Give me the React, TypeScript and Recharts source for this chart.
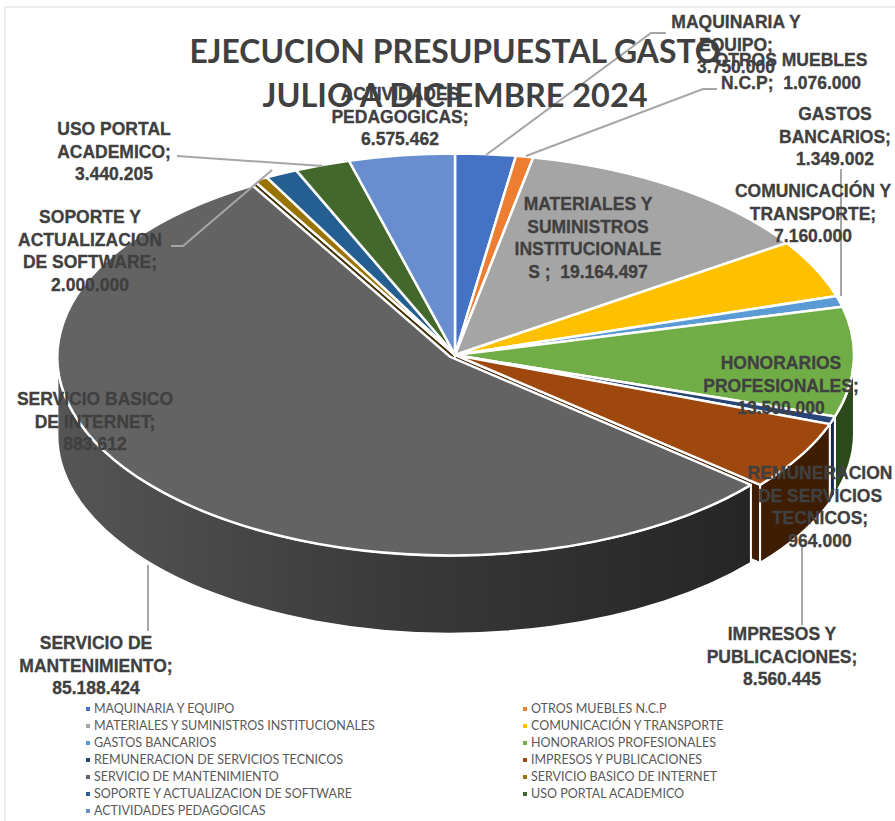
import React from 'react';
import { PieChart, Pie, Legend } from 'recharts';

const categories = [
  'MAQUINARIA Y EQUIPO',
  'OTROS MUEBLES N.C.P',
  'MATERIALES Y SUMINISTROS INSTITUCIONALES',
  'COMUNICACIÓN Y TRANSPORTE',
  'GASTOS BANCARIOS',
  'HONORARIOS PROFESIONALES',
  'REMUNERACION DE SERVICIOS TECNICOS',
  'IMPRESOS Y PUBLICACIONES',
  'SERVICIO DE MANTENIMIENTO',
  'SERVICIO BASICO DE INTERNET',
  'SOPORTE Y ACTUALIZACION DE SOFTWARE',
  'USO PORTAL ACADEMICO',
  'ACTIVIDADES PEDAGOGICAS',
];
const values = [
  3750000, 1076000, 19164497, 7160000, 1349002, 13500000, 964000,
  8560445, 85188424, 883612, 2000000, 3440205, 6575462,
];
const topColors = [
  '#4472c4', '#ed7d31', '#a5a5a5', '#ffc000', '#5b9bd5', '#70ad47', '#264478',
  '#9e480e', '#636363', '#997300', '#255e91', '#43682b', '#698ed0',
];
const sideColors = [
  '#294476', '#8e4b1d', '#636363', '#997300', '#375d80', '#2b4a1b', '#14274e',
  '#3f1d02', 'url(#wallGrey)', '#3f2f00', '#163855', '#28401a', '#3f557d',
];
// how far each slice is pulled out of the pie, in px
const explode = [0, 0, 0, 0, 0, 0, 0, 0, 6, 0, 0, 0, 0];
// the big slice is a little smaller than the rest in the original
const radiusScale = [1, 1, 1, 1, 1, 1, 1, 1, 0.985, 1, 1, 1, 1];

const labelText = [
  ['MAQUINARIA Y', 'EQUIPO;', '3.750.000'],
  ['OTROS MUEBLES', 'N.C.P;  1.076.000'],
  ['MATERIALES Y', 'SUMINISTROS', 'INSTITUCIONALE', 'S ;  19.164.497'],
  ['COMUNICACIÓN Y', 'TRANSPORTE;', '7.160.000'],
  ['GASTOS', 'BANCARIOS;', '1.349.002'],
  ['HONORARIOS', 'PROFESIONALES;', '13.500.000'],
  ['REMUNERACION', 'DE SERVICIOS', 'TECNICOS;', '964.000'],
  ['IMPRESOS Y', 'PUBLICACIONES;', '8.560.445'],
  ['SERVICIO DE', 'MANTENIMIENTO;', '85.188.424'],
  ['SERVICIO BASICO', 'DE INTERNET;', '883.612'],
  ['SOPORTE Y', 'ACTUALIZACION', 'DE SOFTWARE;', '2.000.000'],
  ['USO PORTAL', 'ACADEMICO;', '3.440.205'],
  ['ACTIVIDADES', 'PEDAGOGICAS;', '6.575.462'],
];
const labelX = [736, 791, 588, 813, 835, 781, 820, 782, 96, 95, 90, 114, 400];
const labelY = [22, 60, 204, 191, 114, 363, 473, 634, 643, 399, 217, 129, 94];

const leaderLines = [
  '486,155 651,33 666,33',
  '526,156 703,89 717,89',
  '841,169 841,296',
  '177,156 323,166',
  '171,246 183,246 272,170',
  '148,565 148,631',
  '802,547 802,625',
];

const data = categories.map((name, i) => ({ name, value: values[i], idx: i }));

const SQUASH = 0.505;
const DEPTH = 78;
const rad = (a: number) => (a * Math.PI) / 180;

const geom = (props: any) => {
  const { cx, cy, outerRadius, startAngle: s, endAngle: e, payload } = props;
  const idx = payload?.idx ?? props.idx;
  const r = outerRadius * radiusScale[idx];
  const mid = rad((s + e) / 2);
  const ox = cx + Math.cos(mid) * explode[idx];
  const oy = cy - Math.sin(mid) * explode[idx] * SQUASH;
  const pt = (a: number, drop = 0) =>
    `${ox + r * Math.cos(rad(a))} ${oy - r * SQUASH * Math.sin(rad(a)) + drop}`;
  return { ox, oy, r, s, e, idx, pt };
};

const TopSlice = (props: any) => {
  const { ox, oy, r, s, e, idx, pt } = geom(props);
  const large = Math.abs(s - e) > 180 ? 1 : 0;
  const d = `M ${ox} ${oy} L ${pt(s)} A ${r} ${r * SQUASH} 0 ${large} 1 ${pt(e)} Z`;
  return <path d={d} fill={topColors[idx]} stroke="#fff" strokeWidth={2.5} strokeLinejoin="round" />;
};

const WallSlice = (props: any) => {
  const { r, s, e, idx, pt } = geom(props);
  const from = Math.min(s, 0);
  const to = Math.max(e, -180);
  if (from <= to) return <g />;
  const large = from - to > 180 ? 1 : 0;
  const d =
    `M ${pt(from)} A ${r} ${r * SQUASH} 0 ${large} 1 ${pt(to)} ` +
    `L ${pt(to, DEPTH)} A ${r} ${r * SQUASH} 0 ${large} 0 ${pt(from, DEPTH)} Z`;
  return <path d={d} fill={sideColors[idx]} stroke="#fff" strokeWidth={2} strokeLinejoin="round" />;
};

// cut faces only show where the neighbouring slice has been pulled away
const CutSlice = (props: any) => {
  const { ox, oy, s, e, idx, pt } = geom(props);
  const faces: number[] = [];
  if (explode[idx + 1] > 0 && Math.cos(rad(e)) > 0) faces.push(e);
  if (explode[idx - 1] > 0 && Math.cos(rad(s)) < 0) faces.push(s);
  return (
    <g>
      {faces.map((a) => (
        <path
          key={a}
          d={`M ${ox} ${oy} L ${pt(a)} L ${pt(a, DEPTH)} L ${ox} ${oy + DEPTH} Z`}
          fill={sideColors[idx]}
          stroke="#fff"
          strokeWidth={2}
        />
      ))}
    </g>
  );
};

const LegendBlock = () => (
  <div
    style={{
      display: 'grid',
      gridTemplateColumns: '437px 360px',
      gridAutoRows: '17px',
      fontFamily: 'Lato, sans-serif',
      fontSize: 12.5,
      color: '#595959',
      whiteSpace: 'nowrap',
    }}
  >
    {categories.map((name, i) => (
      <div key={name} style={{ display: 'flex', alignItems: 'center' }}>
        <span style={{ width: 4, height: 4, marginRight: 4, background: topColors[i] }} />
        {name}
      </div>
    ))}
  </div>
);

const labelFont = {
  fontFamily: '"Liberation Sans", Arial, sans-serif',
  fontWeight: 700,
  fontSize: 17.5,
  fill: '#404040',
  stroke: '#404040',
  strokeWidth: 0.3,
};

const titleFont = {
  fontFamily: 'Lato, sans-serif',
  fontWeight: 700,
  fontSize: 33,
  fill: '#404040',
};

const pieProps = {
  data,
  dataKey: 'value',
  nameKey: 'name',
  cx: 455,
  cy: 355,
  outerRadius: 399,
  startAngle: 90,
  endAngle: -270,
  isAnimationActive: false,
  legendType: 'none' as const,
  stroke: 'none',
};

export default function App() {
  return (
    <div style={{ position: 'absolute', left: 0, top: 0, width: 895, height: 821, overflow: 'hidden', background: '#fff' }}>
      <div style={{ position: 'absolute', left: 4, top: 6, width: 900, height: 830, border: '2px solid #ececec' }} />
      <PieChart width={895} height={821} margin={{ top: 0, right: 0, bottom: 0, left: 0 }}>
        <defs>
          <linearGradient id="wallGrey" gradientUnits="userSpaceOnUse" x1="50" y1="0" x2="750" y2="0">
            <stop offset="0" stopColor="#565656" />
            <stop offset="0.5" stopColor="#393939" />
            <stop offset="1" stopColor="#252525" />
          </linearGradient>
        </defs>
        <Pie {...pieProps} shape={(p: any) => <CutSlice {...p} />} />
        <Pie {...pieProps} shape={(p: any) => <WallSlice {...p} />} />
        <Pie {...pieProps} shape={(p: any) => <TopSlice {...p} />} />
        <Legend
          content={LegendBlock}
          wrapperStyle={{ position: 'absolute', left: 86, top: 700, width: 800, height: 120 }}
        />
      </PieChart>
      <svg width={895} height={821} style={{ position: 'absolute', left: 0, top: 0 }}>
        {leaderLines.map((pts) => (
          <polyline key={pts} points={pts} fill="none" stroke="#a6a6a6" strokeWidth={2} />
        ))}
        <text x={455} y={63} textAnchor="middle" textLength={531} lengthAdjust="spacingAndGlyphs" style={titleFont}>
          EJECUCION PRESUPUESTAL GASTO
        </text>
        <text x={455} y={107} textAnchor="middle" textLength={385} lengthAdjust="spacingAndGlyphs" style={titleFont}>
          JULIO A DICIEMBRE 2024
        </text>
        {labelText.map((lines, i) =>
          lines.map((line, j) => (
            <text key={line} x={labelX[i]} y={labelY[i] + 6 + j * 22.7} textAnchor="middle" xmlSpace="preserve" style={labelFont}>
              {line}
            </text>
          )),
        )}
      </svg>
    </div>
  );
}
